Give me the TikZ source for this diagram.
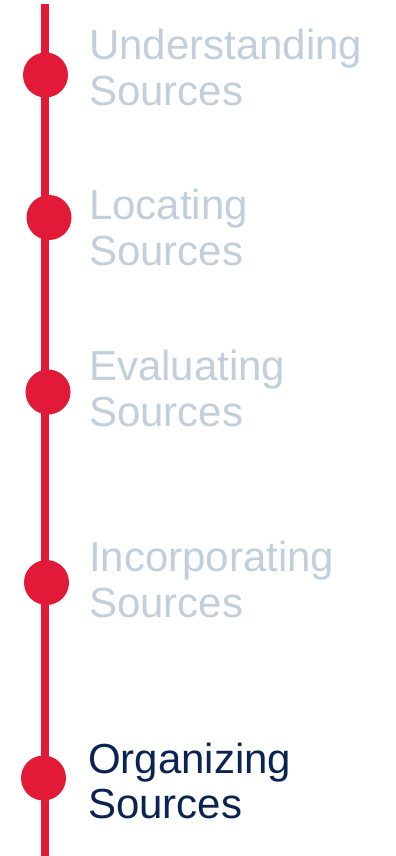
\documentclass[tikz,border=0pt]{standalone}
\usepackage{fontspec}
\setmainfont{Liberation Sans}
\definecolor{tlred}{HTML}{E31A37}
\definecolor{tlgray}{HTML}{C0CFDA}
\definecolor{tlnavy}{HTML}{0A2351}
\begin{document}
\begin{tikzpicture}[x=1bp,y=-1bp,
  dot/.style={circle,fill=tlred,inner sep=0pt,minimum size=45bp},
  lbl/.style={anchor=base west,inner sep=0pt,align=left,
    font=\fontsize{42bp}{45.5bp}\selectfont,text=tlgray},
  cur/.style={lbl,text=tlnavy}]
\useasboundingbox (0,0) rectangle (395,856);
\coordinate (top) at (44.8,4);
\coordinate (bot) at (44.8,856);
\draw[tlred,line width=8.3bp] (top) -- (bot);
\node[dot] (d1) at (45.5,75) {};
\node[dot] (d2) at (49,217.5) {};
\node[dot] (d3) at (48,392) {};
\node[dot] (d4) at (46.5,582.5) {};
\node[dot] (d5) at (43.5,778) {};
\node[lbl] (t1) at (89,105) {Understanding\\Sources};
\node[lbl] (t2) at (89,265) {Locating\\Sources};
\node[lbl] (t3) at (89,426) {Evaluating\\Sources};
\node[lbl] (t4) at (89,617) {Incorporating\\Sources};
\node[cur] (t5) at (88,818.5) {Organizing\\Sources};
\end{tikzpicture}
\end{document}
